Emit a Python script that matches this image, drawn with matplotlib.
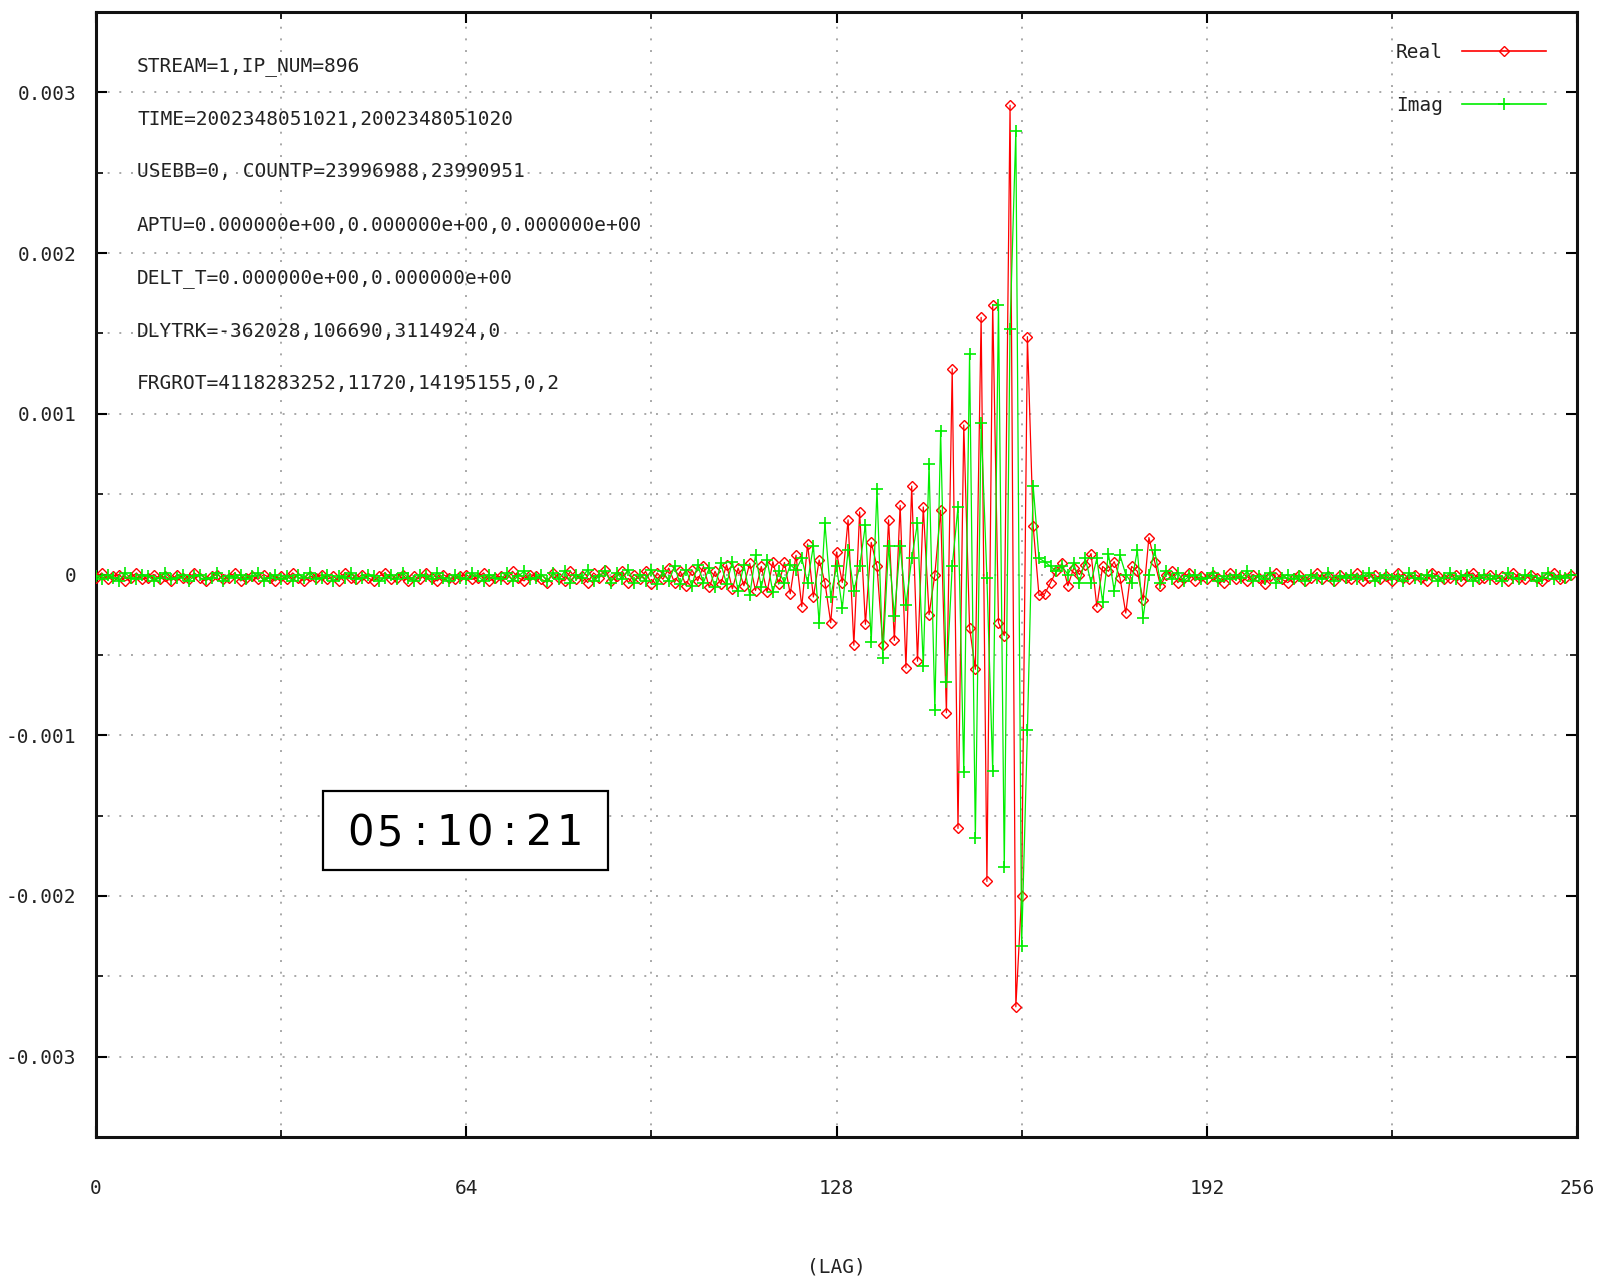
import numpy as np
import matplotlib
matplotlib.use("Agg")
import matplotlib.pyplot as plt
from matplotlib.lines import Line2D
from matplotlib.patches import Rectangle

# ---------------- data (values in units of 1e-3) ----------------
UNIT = 1e-3

real_vals = [
    -0.02, 0.01, -0.03, -0.01, 0.00, -0.04, -0.02, 0.01, -0.03, -0.02, 0.00, -0.03, -0.01, -0.04, 0.00, -0.02,
    -0.03, 0.01, -0.02, -0.04, -0.01, 0.00, -0.03, -0.02, 0.01, -0.04, -0.02, -0.01, -0.03, 0.00, -0.02, -0.04,
    -0.01, -0.03, 0.01, -0.02, -0.04, -0.01, -0.02, 0.00, -0.03, -0.01, -0.04, 0.01, -0.02, -0.03, 0.00, -0.02,
    -0.04, -0.01, 0.01, -0.03, -0.02, 0.00, -0.04, -0.01, -0.03, 0.01, -0.02, -0.04, 0.00, -0.02, -0.03, -0.01,
    0.00, -0.03, -0.02, 0.01, -0.04, -0.02, -0.01, -0.03, 0.02, -0.02, -0.04, 0.00, -0.01, -0.03, -0.05, 0.01,
    -0.02, -0.04, 0.02, -0.03, -0.01, -0.05, 0.01, -0.02, 0.03, -0.04, -0.01, 0.02, -0.05, 0.00, -0.03, 0.02,
    -0.06, 0.01, -0.03, 0.04, -0.05, 0.02, -0.07, 0.03, -0.04, 0.05, -0.08, 0.02, -0.06, 0.06, -0.09, 0.04,
    -0.07, 0.07, -0.10, 0.05, -0.11, 0.08, -0.06, 0.075, -0.12, 0.12, -0.20, 0.19, -0.14, 0.09, -0.05, -0.30,
    0.14, -0.05, 0.34, -0.44, 0.39, -0.31, 0.20, 0.05, -0.44, 0.34, -0.41, 0.43, -0.58, 0.55, -0.54, 0.42,
    -0.25, 0.00, 0.40, -0.86, 1.28, -1.58, 0.93, -0.33, -0.59, 1.60, -1.91, 1.68, -0.30, -0.38, 2.92, -2.69,
    -2.00, 1.48, 0.30, -0.13, -0.12, -0.05, 0.02, 0.07, -0.07, 0.04, 0.00, 0.06, 0.13, -0.20, 0.05, 0.02,
    0.08, -0.02, -0.24, 0.05, 0.02, -0.16, 0.23, 0.08, -0.07, 0.00, 0.02, -0.05, -0.02, 0.01, -0.04, -0.01,
    -0.03, 0.00, -0.02, -0.05, 0.01, -0.03, -0.01, -0.04, 0.00, -0.02, -0.06, -0.01, 0.01, -0.03, -0.05, -0.02,
    0.00, -0.04, -0.02, 0.01, -0.03, -0.01, -0.04, 0.00, -0.02, -0.03, 0.01, -0.04, -0.02, 0.00, -0.03, -0.01,
    -0.04, 0.01, -0.02, -0.03, 0.00, -0.02, -0.04, 0.01, -0.01, -0.03, -0.02, 0.00, -0.04, -0.01, 0.01, -0.03,
    -0.02, 0.00, -0.03, -0.01, -0.04, 0.01, -0.02, -0.03, 0.00, -0.02, -0.04, -0.01, 0.01, -0.03, -0.02, 0.00,
]

imag_vals = [
    -0.01, -0.03, 0.00, -0.02, -0.04, 0.01, -0.02, -0.03, 0.00, -0.01, -0.04, -0.02, 0.01, -0.03, -0.02, 0.00,
    -0.04, -0.01, 0.00, -0.03, -0.02, 0.01, -0.04, -0.01, -0.02, 0.00, -0.03, -0.01, 0.01, -0.04, -0.02, 0.00,
    -0.03, -0.01, -0.04, 0.00, -0.02, 0.01, -0.03, -0.02, 0.00, -0.04, -0.01, -0.02, 0.01, -0.03, -0.02, 0.00,
    -0.01, -0.04, -0.02, 0.00, -0.03, 0.01, -0.02, -0.04, 0.00, -0.01, -0.03, 0.01, -0.02, -0.04, 0.00, -0.02,
    -0.03, 0.01, -0.01, -0.04, 0.00, -0.02, -0.03, 0.01, -0.04, -0.01, 0.02, -0.03, -0.02, 0.00, -0.04, 0.01,
    -0.03, 0.02, -0.05, 0.00, -0.02, 0.03, -0.04, -0.01, 0.02, -0.05, 0.01, -0.03, 0.03, -0.05, 0.00, -0.04,
    0.03, -0.06, 0.02, -0.04, 0.05, -0.06, 0.03, -0.07, 0.06, -0.05, 0.04, -0.08, 0.07, -0.06, 0.08, -0.10,
    0.06, -0.13, 0.12, -0.08, 0.09, -0.11, 0.02, -0.05, 0.06, 0.03, 0.10, -0.05, 0.18, -0.30, 0.32, -0.14,
    0.05, -0.21, 0.15, -0.10, 0.05, 0.31, -0.42, 0.53, -0.52, 0.18, -0.26, 0.18, -0.19, 0.10, 0.32, -0.57,
    0.69, -0.84, 0.89, -0.67, 0.05, 0.42, -1.23, 1.37, -1.64, 0.94, -0.02, -1.22, 1.68, -1.82, 1.53, 2.76,
    -2.31, -0.97, 0.55, 0.10, 0.08, 0.05, 0.02, 0.05, 0.00, 0.07, -0.05, 0.10, -0.05, 0.10, -0.17, 0.13,
    -0.10, 0.12, 0.00, -0.05, 0.15, -0.27, 0.00, 0.15, -0.05, 0.02, -0.03, 0.01, -0.04, -0.01, 0.00, -0.03,
    -0.02, 0.01, -0.04, -0.01, -0.03, 0.00, -0.02, 0.02, -0.04, -0.01, -0.03, 0.01, -0.05, -0.02, 0.00, -0.03,
    -0.01, -0.04, 0.00, -0.02, -0.03, 0.01, -0.04, -0.01, -0.02, 0.00, -0.03, -0.01, 0.01, -0.04, -0.02, 0.00,
    -0.03, -0.01, -0.04, 0.01, -0.02, -0.03, 0.00, -0.01, -0.04, -0.02, 0.01, -0.03, -0.01, 0.00, -0.04, -0.02,
    0.00, -0.03, -0.01, -0.04, 0.01, -0.02, -0.03, 0.00, -0.01, -0.04, -0.02, 0.01, -0.03, -0.01, -0.02, 0.00,
]

series_labels = ["Real", "Imag"]

x_ticks = [0, 64, 128, 192, 256]
x_tick_labels = ["0", "64", "128", "192", "256"]
x_minor_ticks = [32, 96, 160, 224]

y_ticks = [-0.003, -0.002, -0.001, 0.0, 0.001, 0.002, 0.003]
y_tick_labels = ["-0.003", "-0.002", "-0.001", "0", "0.001", "0.002", "0.003"]
y_minor_ticks = [-0.0025, -0.0015, -0.0005, 0.0005, 0.0015, 0.0025]

info_lines = [
    "STREAM=1,IP_NUM=896",
    "TIME=2002348051021,2002348051020",
    "USEBB=0, COUNTP=23996988,23990951",
    "APTU=0.000000e+00,0.000000e+00,0.000000e+00",
    "DELT_T=0.000000e+00,0.000000e+00",
    "DLYTRK=-362028,106690,3114924,0",
    "FRGROT=4118283252,11720,14195155,0,2",
]
clock_text = "05:10:21"
x_label = "(LAG)"

# ---------------- figure ----------------
W, H = 1598, 1281
plt.rcParams["font.family"] = ["DejaVu Sans Mono", "DejaVu Sans"]
plt.rcParams["axes.unicode_minus"] = False

fig = plt.figure(figsize=(W / 100, H / 100), dpi=100)
fig.patch.set_facecolor("white")


def fx(px):
    return px / W


def fy(py):
    return 1 - py / H


ax_left, ax_right, ax_top, ax_bottom = 96, 1577, 12, 1137
ax = fig.add_axes([fx(ax_left), fy(ax_bottom), fx(ax_right) - fx(ax_left), (ax_bottom - ax_top) / H])

RED = "#ff0000"
GREEN = "#00ee00"

lag_r = np.arange(len(real_vals))
lag_i = np.arange(len(imag_vals))
ax.plot(lag_r, np.array(real_vals) * UNIT, color=RED, lw=0.9, marker="D", ms=5.5,
        mfc="none", mec=RED, mew=1.0, label=series_labels[0], zorder=3)
ax.plot(lag_i, np.array(imag_vals) * UNIT, color=GREEN, lw=0.9, marker="+", ms=9,
        mec=GREEN, mew=1.2, label=series_labels[1], zorder=4)

ax.set_xlim(0, 256)
ax.set_ylim(-0.0035, 0.0035)

ax.set_xticks(x_ticks)
ax.set_xticklabels(x_tick_labels)
ax.set_xticks(x_minor_ticks, minor=True)
ax.set_yticks(y_ticks)
ax.set_yticklabels(y_tick_labels)
ax.set_yticks(y_minor_ticks, minor=True)

ax.tick_params(axis="both", which="major", direction="in", length=8, width=1.5,
               top=True, right=True, labelsize=14, colors="black", labelcolor="#222222")
ax.tick_params(axis="both", which="minor", direction="in", length=5, width=1.2,
               top=True, right=True)
ax.tick_params(axis="x", which="major", pad=30)
ax.tick_params(axis="y", which="major", pad=14)

ax.grid(True, which="both", color="#a8a8a8", linestyle=(0, (1, 5)), linewidth=1.4, zorder=0)
ax.set_axisbelow(True)

for sp in ax.spines.values():
    sp.set_linewidth(2.2)
    sp.set_color("#111111")

ax.set_xlabel(x_label, fontsize=14, color="#222222")
ax.xaxis.set_label_coords(0.5, (ax_bottom - 1267) / (ax_bottom - ax_top))
ax.xaxis.label.set_va("center")

# info text block
for i, line in enumerate(info_lines):
    fig.text(fx(137), fy(66 + i * 53), line, fontsize=14, ha="left", va="center",
             color="#222222", zorder=5)

# legend (gnuplot style: text left, sample right)
handles = [
    Line2D([], [], color=RED, lw=1.2, marker="D", ms=5.5, mfc="none", mec=RED, mew=1.0),
    Line2D([], [], color=GREEN, lw=1.2, marker="+", ms=9, mec=GREEN, mew=1.2),
]
leg = ax.legend(handles, series_labels, loc="upper right",
                bbox_to_anchor=(fx(1546), fy(43)), bbox_transform=fig.transFigure,
                markerfirst=False, frameon=False, handlelength=4.3, handletextpad=1.0,
                labelspacing=1.75, borderpad=0, borderaxespad=0, numpoints=1,
                prop={"family": "DejaVu Sans Mono", "size": 14})
for t in leg.get_texts():
    t.set_color("#222222")

# clock box
box = Rectangle((fx(323), fy(870)), fx(608) - fx(323), (870 - 791) / H,
                transform=fig.transFigure, facecolor="white", edgecolor="black",
                lw=1.6, zorder=6)
fig.add_artist(box)
for i, ch in enumerate(clock_text):
    fig.text(fx(360 + i * 29.9), fy(833), ch, fontsize=30, ha="center", va="center",
             family=["Liberation Sans Narrow", "DejaVu Sans"], color="black", zorder=7)

fig.savefig("out.png", dpi=100, facecolor="white")
